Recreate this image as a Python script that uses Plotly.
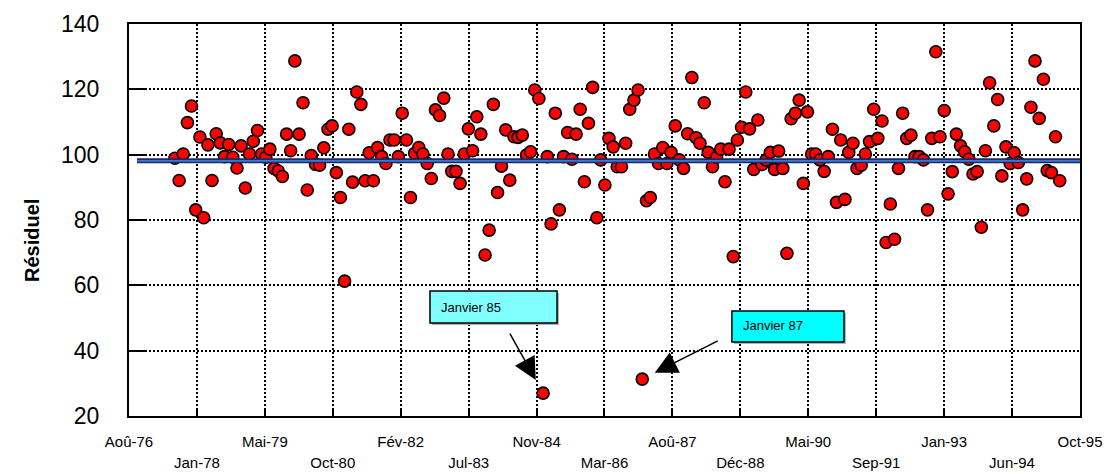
import pandas as pd
import plotly.graph_objects as go

# ---------------- data ----------------
tick_labels = ["Aoû-76", "Jan-78", "Mai-79", "Oct-80", "Fév-82", "Jul-83", "Nov-84",
               "Mar-86", "Aoû-87", "Déc-88", "Mai-90", "Sep-91", "Jan-93", "Jun-94", "Oct-95"]
axis_start = "1976-08-28"
axis_step_days = 500

first_month = "1977-08-01"

resid_1977_1982 = [98.9, 92.1, 100.2, 109.8, 114.9, 83.1, 105.4, 80.7, 103.0, 92.1,
                   106.4, 103.6, 99.4, 103.1, 99.2, 95.9, 102.7, 89.8, 100.2, 104.1,
                   107.4, 100.2, 99.2, 101.7, 95.8, 95.0, 93.3, 106.3, 101.2, 128.7,
                   106.3, 115.9, 89.2, 99.7, 97.0, 96.8, 102.1, 107.8, 108.8, 94.5,
                   86.9, 61.3, 107.8, 91.6, 119.2, 115.4, 92.0, 100.6, 92.0, 102.2,
                   99.4, 97.3, 104.5, 104.5, 99.4, 112.7, 104.5, 86.9, 100.4]
resid_1982_1984 = [102.2, 100.2, 97.3, 92.7, 113.7, 112.0, 117.3, 100.2, 94.9, 94.9,
                   91.2, 100.2, 107.9, 101.2, 111.6, 106.3, 69.3, 76.9, 115.4, 88.4,
                   96.5, 107.6, 92.2, 105.5, 105.3, 106.0, 99.9, 100.9, 119.8, 117.2]
resid_jan85 = [27.0]
resid_1985_1986 = [99.4, 78.8, 112.7, 83.1, 99.4, 106.8, 98.6, 106.3, 113.9, 91.7,
                   109.6, 120.6, 80.7, 98.4, 90.7, 105.0, 102.4, 96.3, 96.3, 103.5,
                   113.9, 116.7, 119.8]
resid_jan87 = [31.3]
resid_1987_1989 = [85.9, 86.9, 100.2, 97.3, 102.2, 97.3, 100.7, 108.8, 98.4, 95.8,
                   106.4, 123.6, 105.2, 103.5, 115.9, 100.7, 96.3, 99.2, 101.7, 91.7,
                   101.7, 68.8, 104.5, 108.4, 119.2, 107.9, 95.5, 110.6, 97.0, 98.4,
                   100.7, 95.5, 101.1, 95.8]
resid_1990_1995 = [69.8,
                   111.0, 112.7, 116.7, 91.2, 113.1, 100.2, 100.2, 98.4, 94.9, 99.4,
                   107.8, 85.4, 104.5, 86.3, 100.7, 103.5, 95.8, 96.8, 100.2, 104.0,
                   113.9, 105.0, 110.3, 73.1, 84.9, 74.1, 95.8, 112.7, 105.0, 106.0,
                   99.4, 99.4, 98.4, 83.1, 105.0, 131.5, 105.5, 113.5, 88.0, 94.8,
                   106.3, 102.7, 100.9, 98.6, 94.1, 94.8, 77.8, 101.2, 122.0, 108.8,
                   116.9, 93.5, 102.4, 97.3, 100.6, 97.6, 83.1, 92.6, 114.5, 128.7,
                   111.1, 123.1, 95.1, 94.5, 105.5, 92.0]

mean_value = 98.1
mean_line_start = "1976-10-26"

annot_texts = ["Janvier 85", "Janvier 87"]
annot_dates = ["1985-01-01", "1987-01-01"]

# ---------------- build ----------------
residuals = (resid_1977_1982 + resid_1982_1984 + resid_jan85 + resid_1985_1986
             + resid_jan87 + resid_1987_1989 + resid_1990_1995)
dates = pd.date_range(first_month, periods=len(residuals), freq="MS")
annot_values = [resid_jan85[0], resid_jan87[0]]

t0 = pd.Timestamp(axis_start)
tick_dates = [t0 + pd.Timedelta(days=axis_step_days * k) for k in range(len(tick_labels))]
axis_end_ts = tick_dates[-1] + pd.Timedelta(hours=6)
axis_end = axis_end_ts.strftime("%Y-%m-%d %H:%M")
even_vals = [d.strftime("%Y-%m-%d") for d in tick_dates[0::2]]
odd_vals = [d.strftime("%Y-%m-%d") for d in tick_dates[1::2]]
mean_line_dates = [mean_line_start, axis_end]

FONT = "Liberation Sans, Arial, sans-serif"

fig = go.Figure()
fig.add_trace(go.Scatter(
    x=dates, y=residuals, mode="markers",
    marker=dict(symbol="circle", size=12, color="#ff0000",
                line=dict(color="black", width=1.6)),
    showlegend=False, hoverinfo="x+y"))

fig.add_trace(go.Scatter(
    x=mean_line_dates, y=[mean_value, mean_value], mode="lines",
    line=dict(color="#1b2a66", width=5), xaxis="x2", yaxis="y",
    showlegend=False, hoverinfo="skip"))
fig.add_trace(go.Scatter(
    x=mean_line_dates, y=[mean_value, mean_value], mode="lines",
    line=dict(color="#3d78d0", width=1.8), xaxis="x2", yaxis="y",
    showlegend=False, hoverinfo="skip"))

grid_common = dict(showgrid=True, gridcolor="black", gridwidth=1.8, griddash="2px,2px")

fig.update_layout(
    width=1108, height=474,
    margin=dict(l=129, r=28, t=24, b=58, autoexpand=False),
    paper_bgcolor="white", plot_bgcolor="white",
    font=dict(family=FONT, color="black"),
    xaxis=dict(type="date", range=[axis_start, axis_end], automargin=False,
               tickmode="array", tickvals=even_vals, ticktext=tick_labels[0::2],
               ticks="inside", ticklen=7, tickwidth=2, tickcolor="black",
               showline=True, linecolor="black", linewidth=2, mirror=True,
               tickfont=dict(size=15, family=FONT, color="black"),
               ticklabelstandoff=11, ticklabeloverflow="allow", zeroline=False, **grid_common),
    xaxis2=dict(type="date", range=[axis_start, axis_end], overlaying="x",
                matches="x", anchor="y", side="bottom", automargin=False,
                tickmode="array", tickvals=odd_vals, ticktext=tick_labels[1::2],
                ticks="inside", ticklen=7, tickwidth=2, tickcolor="black",
                showline=False, tickfont=dict(size=15, family=FONT, color="black"),
                ticklabelstandoff=36, ticklabeloverflow="allow", zeroline=False, **grid_common),
    yaxis=dict(range=[20, 140], tick0=20, dtick=20, automargin=False,
               ticks="inside", ticklen=16, tickwidth=2, tickcolor="black",
               showline=True, linecolor="black", linewidth=2, mirror=True,
               tickfont=dict(size=23, family=FONT, color="black"),
               ticklabelstandoff=23, zeroline=False, **grid_common),
)

# y-axis title
fig.add_annotation(text="<b>Résiduel</b>", textangle=-90, xref="paper", yref="paper",
                   x=-0.102, y=0.449, showarrow=False, xanchor="center", yanchor="middle",
                   font=dict(size=20, family=FONT, color="black"))

# callout boxes
boxes = [dict(x0=0.3165, x1=0.4501, y0=0.2372, y1=0.3189, fill="#80ffff",
              tx=0.326, ty=0.278),
         dict(x0=0.634, x1=0.7518, y0=0.1888, y1=0.2679, fill="#00ffff",
              tx=0.6435, ty=0.230)]
for b, txt in zip(boxes, annot_texts):
    fig.add_shape(type="rect", xref="paper", yref="paper",
                  x0=b["x0"] + 0.002, x1=b["x1"] + 0.002, y0=b["y0"] - 0.005, y1=b["y1"] - 0.005,
                  fillcolor="#b0b0b0", line=dict(width=0), layer="above")
    fig.add_shape(type="rect", xref="paper", yref="paper",
                  x0=b["x0"], x1=b["x1"], y0=b["y0"], y1=b["y1"],
                  fillcolor=b["fill"], line=dict(color="black", width=1.5), layer="above")
    fig.add_annotation(text=txt, xref="paper", yref="paper", x=b["tx"], y=b["ty"],
                       xanchor="left", yanchor="middle", showarrow=False,
                       font=dict(size=13, family=FONT, color="black"))

# arrows to the outliers
arrow_offsets = [(-34, -61, 15), (77, -39, 14)]
for d, v, (ax, ay, so) in zip(annot_dates, annot_values, arrow_offsets):
    fig.add_annotation(x=d, y=v, xref="x", yref="y", text="", showarrow=True,
                       ax=ax, ay=ay, arrowhead=2, arrowsize=3, arrowwidth=1.5,
                       arrowcolor="black", standoff=so)

# remove the browser's default 8px page margin so the figure sits at the window origin
fig.write_html("out.html", config={"displayModeBar": False},
               post_script="document.body.style.margin='0';document.body.style.overflow='hidden';")
